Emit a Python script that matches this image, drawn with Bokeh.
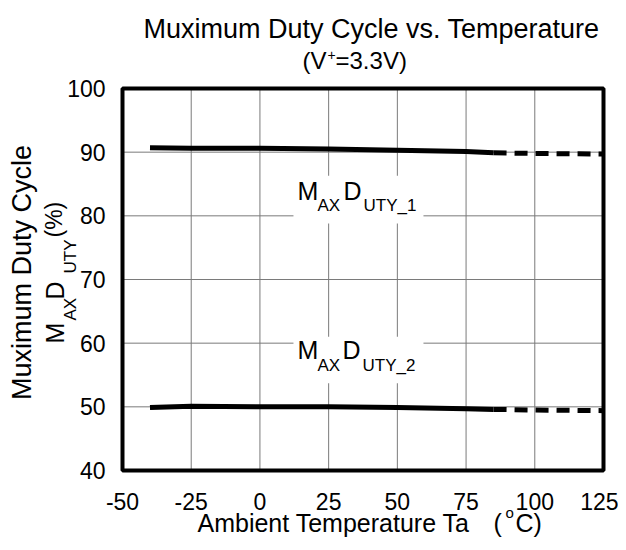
import math
from bokeh.plotting import figure
from bokeh.models import Label, BoxAnnotation, FixedTicker
from bokeh.embed import file_html
from bokeh.resources import INLINE

# ---- data ----
temp_solid = [-40, -25, 0, 25, 50, 75, 85]
temp_dash = [85, 100, 125]
duty1_solid = [90.7, 90.6, 90.6, 90.5, 90.3, 90.1, 89.9]
duty1_dash = [89.9, 89.8, 89.7]
duty2_solid = [49.9, 50.1, 50.0, 50.0, 49.9, 49.7, 49.6]
duty2_dash = [49.6, 49.5, 49.4]
x_ticks = [-50, -25, 0, 25, 50, 75, 100, 125]
y_ticks = [40, 50, 60, 70, 80, 90, 100]
x_tick_labels = {t: str(t) for t in x_ticks}

FONT = "Liberation Sans"
W, H = 618, 542
FL, FR, FT, FB = 122, 603, 88, 470   # wanted edges of the data area, picture pixels

X0, X1 = x_ticks[0], x_ticks[-1]
Y0, Y1 = y_ticks[0], y_ticks[-1]
kx = (FR - FL) / (X1 - X0)
ky = (FB - FT) / (Y1 - Y0)
x_range = (X0 - FL / kx, X1 + (W - FR) / kx)
y_range = (Y0 - (H - FB) / ky, Y1 + FT / ky)

p = figure(width=W, height=H, x_range=x_range, y_range=y_range,
           output_backend="svg", toolbar_location=None,
           min_border_left=0, min_border_right=0,
           min_border_top=0, min_border_bottom=0)
p.outline_line_color = None
p.background_fill_color = "white"
p.border_fill_color = "white"
p.grid.visible = False

# axes, pinned to the edges of the data area
p.xaxis.ticker = FixedTicker(ticks=x_ticks)
p.yaxis.ticker = FixedTicker(ticks=y_ticks)
p.xaxis.major_label_overrides = x_tick_labels
p.xaxis.fixed_location = Y0
p.yaxis.fixed_location = X0
for ax in (p.xaxis[0], p.yaxis[0]):
    ax.axis_line_color = None
    ax.major_tick_line_color = None
    ax.minor_tick_line_color = None
    ax.major_label_text_font = FONT
    ax.major_label_text_font_size = "23px"
    ax.major_label_text_color = "black"
p.xaxis.major_label_standoff = 16
p.yaxis.major_label_standoff = 11

# grid lines
p.segment(x0=x_ticks, y0=[Y0] * len(x_ticks), x1=x_ticks, y1=[Y1] * len(x_ticks),
          line_color="#7a7a7a", line_width=1)
p.segment(x0=[X0] * len(y_ticks), y0=y_ticks, x1=[X1] * len(y_ticks), y1=y_ticks,
          line_color="#7a7a7a", line_width=1)

# curves
p.line(temp_solid, duty1_solid, line_color="black", line_width=5)
p.line(temp_dash, duty1_dash, line_color="black", line_width=5, line_dash="13 8")
p.line(temp_solid, duty2_solid, line_color="black", line_width=5)
p.line(temp_dash, duty2_dash, line_color="black", line_width=5, line_dash="13 8")

# heavy frame
p.quad(left=X0, right=X1, bottom=Y0, top=Y1, fill_color=None,
       line_color="black", line_width=4)

# white label boxes (clear the grid behind the curve labels)
p.add_layout(BoxAnnotation(left=12.2, right=59.5, bottom=78.8, top=86.3,
                           fill_color="white", fill_alpha=1, line_color=None))
p.add_layout(BoxAnnotation(left=12.2, right=59.5, bottom=53.7, top=61.0,
                           fill_color="white", fill_alpha=1, line_color=None))

SHIFT = 0.44  # empirical baseline correction (fraction of font size)


def lab(text, px, py, size, align="left", angle=0.0):
    # px, py: wanted baseline anchor in picture pixels (canvas units, y from top)
    if angle == 0.0:
        x, y = px, py - SHIFT * size
    else:
        x, y = px - SHIFT * size, py
    p.add_layout(Label(x=x, y=y, x_units="canvas", y_units="canvas",
                       text=text, text_font=FONT, text_font_size=f"{size}px",
                       text_align=align, text_baseline="alphabetic", angle=angle,
                       text_color="black"))


# title
lab("Muximum Duty Cycle vs. Temperature", 371, 40, 27, align="center")
lab("(V", 302, 71, 24)
lab("+", 327, 61, 14)
lab("=3.3V)", 335, 71, 24)

# curve labels
lab("M", 297, 201, 25)
lab("AX", 317, 212, 17)
lab("D", 343, 201, 25)
lab("UTY_1", 363, 212, 17)
lab("M", 297, 360, 25)
lab("AX", 317, 372, 17)
lab("D", 342, 360, 25)
lab("UTY_2", 362, 372, 17)

# x axis title
lab("Ambient Temperature Ta", 197, 533, 25)
lab("(", 493, 533, 25)
lab("o", 505, 519, 15)
lab("C)", 515, 533, 25)

# y axis title (rotated)
R = math.pi / 2
lab("Muximum Duty Cycle", 33, 272, 27, align="center", angle=R)
lab("M", 65, 343, 25, angle=R)
lab("AX", 77, 320, 17, angle=R)
lab("D", 65, 299, 25, angle=R)
lab("UTY", 77, 273, 17, angle=R)
lab("(%)", 64, 237, 23, angle=R)

open("out.html", "w").write(file_html(p, INLINE))
